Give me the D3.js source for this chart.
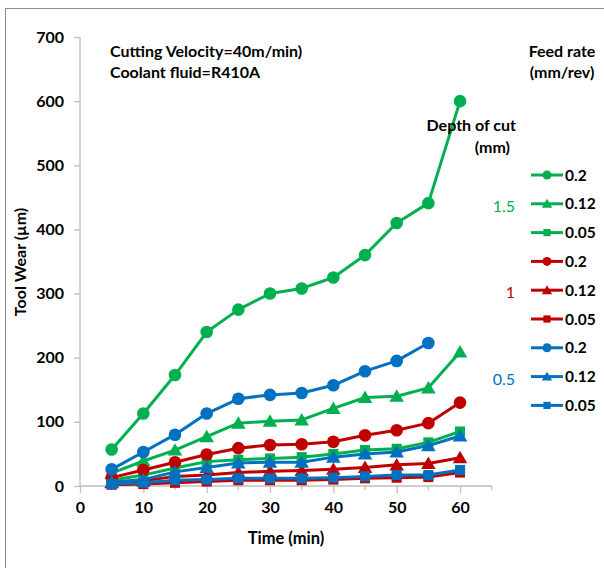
<!DOCTYPE html>
<html>
<head>
<meta charset="utf-8">
<script src="https://cdn.jsdelivr.net/npm/d3@7/dist/d3.min.js"></script>
<style>
  html, body { margin: 0; padding: 0; background: #fff; }
  svg text { font-family: Lato, "Open Sans", sans-serif; }
</style>
</head>
<body>
<svg id="chart" width="604" height="568"></svg>
<script>
// Cutting time (min)
const times = [5, 10, 15, 20, 25, 30, 35, 40, 45, 50, 55, 60];

// Tool wear (µm) per depth of cut / feed rate
const wearD15F020 = [57, 113, 173, 240, 275, 300, 308, 325, 360, 410, 441, 600];
const wearD15F012 = [20, 39, 56, 77, 98, 101, 103, 121, 138, 140, 153, 209];
const wearD15F005 = [9, 17, 28, 38, 41, 43, 45, 50, 56, 58, 68, 85];
const wearD10F020 = [13, 25, 37, 49, 59, 64, 65, 69, 79, 87, 98, 130];
const wearD10F012 = [5, 8, 15, 17, 21, 23, 24, 26, 29, 33, 35, 44];
const wearD10F005 = [2, 3, 5, 7, 9, 9, 9, 10, 12, 13, 14, 21];
const wearD05F020 = [26, 53, 80, 113, 136, 142, 145, 157, 179, 195, 223];
const wearD05F012 = [6, 10, 22, 29, 36, 37, 37, 45, 50, 53, 63, 78];
const wearD05F005 = [3, 5, 9, 10, 12, 12, 12, 13, 15, 17, 17, 25];

const feedLabels = ["0.2", "0.12", "0.05"];
const depthLabels = ["1.5", "1", "0.5"];
const xTicks = [0, 10, 20, 30, 40, 50, 60];
const yTicks = [0, 100, 200, 300, 400, 500, 600, 700];

const depthColors = ["#00b050", "#c00000", "#0070c0"];
const markerShapes = ["circle", "triangle", "square"];

const seriesValues = [
  wearD15F020, wearD15F012, wearD15F005,
  wearD10F020, wearD10F012, wearD10F005,
  wearD05F020, wearD05F012, wearD05F005
];
const series = seriesValues.map((vals, i) => ({
  depth: Math.floor(i / 3),
  feed: i % 3,
  points: vals.map((v, j) => ({ t: times[j], w: v }))
}));

const svg = d3.select("#chart");

// outer frame
svg.append("rect")
  .attr("x", 5.5).attr("y", 8.5)
  .attr("width", 620).attr("height", 600)
  .attr("fill", "none").attr("stroke", "#8c8c8c").attr("stroke-width", 1);

const x = d3.scaleLinear().domain([0, 65]).range([80, 491.7]);
const y = d3.scaleLinear().domain([0, 700]).range([486, 37]);

const axisColor = "#bfbfbf";
const labelFont = "Lato, 'Open Sans', sans-serif";

// y axis
const yAxis = svg.append("g").attr("transform", "translate(80,0)")
  .call(d3.axisLeft(y).tickValues(yTicks).tickSize(6).tickPadding(10));
yAxis.select(".domain").attr("stroke", axisColor).attr("stroke-width", 1.3)
  .attr("d", `M0,${y(700)}V${y(0)}`);
yAxis.selectAll(".tick line").attr("stroke", axisColor).attr("stroke-width", 1.3);
yAxis.selectAll(".tick text")
  .attr("fill", "#000").attr("font-size", 16).attr("font-weight", "bold")
  .style("font-family", labelFont);

// x axis: minor ticks every 5 min, labels every 10
const xAxisG = svg.append("g").attr("transform", `translate(0,${y(0)})`);
const minorTicks = d3.range(5, 70, 10);
xAxisG.call(d3.axisBottom(x).tickValues(xTicks).tickSize(7).tickPadding(9));
xAxisG.select(".domain").attr("stroke", axisColor).attr("stroke-width", 1.3)
  .attr("d", `M${x(0)},0H${x(65)}`);
xAxisG.selectAll(".tick line").attr("stroke", axisColor).attr("stroke-width", 1.3);
xAxisG.selectAll(".tick text")
  .attr("fill", "#000").attr("font-size", 16).attr("font-weight", "bold")
  .style("font-family", labelFont);
xAxisG.selectAll(".minor").data(minorTicks).enter().append("line")
  .attr("x1", d => x(d)).attr("x2", d => x(d))
  .attr("y1", 0).attr("y2", 4)
  .attr("stroke", axisColor).attr("stroke-width", 1.3);

// axis titles
svg.append("text")
  .attr("x", 286).attr("y", 544)
  .attr("text-anchor", "middle").attr("font-size", 16.5).attr("font-weight", "bold")
  .text("Time (min)");
svg.append("text")
  .attr("transform", "translate(26,262) rotate(-90)")
  .attr("text-anchor", "middle").attr("font-size", 16).attr("font-weight", "bold")
  .text("Tool Wear (µm)");

// marker drawing
function drawMarker(sel, shape, size, color) {
  if (shape === "circle") {
    sel.append("circle").attr("r", size).attr("fill", color);
  } else if (shape === "triangle") {
    const s = size * 1.1;
    sel.append("path")
      .attr("d", `M0,${-s}L${s * 1.05},${s * 0.8}L${-s * 1.05},${s * 0.8}Z`)
      .attr("fill", color);
  } else {
    const s = size * 0.8;
    sel.append("rect").attr("x", -s).attr("y", -s)
      .attr("width", 2 * s).attr("height", 2 * s).attr("fill", color);
  }
}

const line = d3.line().x(d => x(d.t)).y(d => y(d.w));

series.forEach(s => {
  const color = depthColors[s.depth];
  const g = svg.append("g");
  g.append("path").datum(s.points)
    .attr("d", line).attr("fill", "none")
    .attr("stroke", color).attr("stroke-width", 3)
    .attr("stroke-linejoin", "round");
  g.selectAll(".m").data(s.points).enter().append("g")
    .attr("transform", d => `translate(${x(d.t)},${y(d.w)})`)
    .each(function () { drawMarker(d3.select(this), markerShapes[s.feed], 6.3, color); });
});

// annotations
svg.append("text").attr("x", 110).attr("y", 57)
  .attr("font-size", 16).attr("font-weight", "bold").text("Cutting Velocity=40m/min)");
svg.append("text").attr("x", 110).attr("y", 78)
  .attr("font-size", 16).attr("font-weight", "bold").text("Coolant fluid=R410A");

svg.append("text").attr("x", 562).attr("y", 57).attr("text-anchor", "middle")
  .attr("font-size", 16).attr("font-weight", "bold").text("Feed rate");
svg.append("text").attr("x", 562).attr("y", 78).attr("text-anchor", "middle")
  .attr("font-size", 16).attr("font-weight", "bold").text("(mm/rev)");
svg.append("text").attr("x", 516).attr("y", 131).attr("text-anchor", "end")
  .attr("font-size", 16).attr("font-weight", "bold").text("Depth of cut");
svg.append("text").attr("x", 510).attr("y", 153).attr("text-anchor", "end")
  .attr("font-size", 16).attr("font-weight", "bold").text("(mm)");

// legend
const legendTop = 175, legendStep = 28.8;
series.forEach((s, i) => {
  const color = depthColors[s.depth];
  const ly = legendTop + i * legendStep;
  const g = svg.append("g").attr("transform", `translate(0,${ly})`);
  g.append("line").attr("x1", 531).attr("x2", 563).attr("y1", 0).attr("y2", 0)
    .attr("stroke", color).attr("stroke-width", 3);
  const m = g.append("g").attr("transform", "translate(547,0)");
  drawMarker(m, markerShapes[s.feed], 4.5, color);
  g.append("text").attr("x", 565).attr("y", 5.5)
    .attr("font-size", 15.5).attr("font-weight", "bold").text(feedLabels[s.feed]);
});

// depth-of-cut group labels
depthLabels.forEach((lab, i) => {
  const ly = legendTop + (i * 3 + 1) * legendStep;
  svg.append("text").attr("x", 515).attr("y", ly + 8).attr("text-anchor", "end")
    .attr("font-size", 16).attr("fill", depthColors[i]).text(lab);
});
</script>
</body>
</html>
